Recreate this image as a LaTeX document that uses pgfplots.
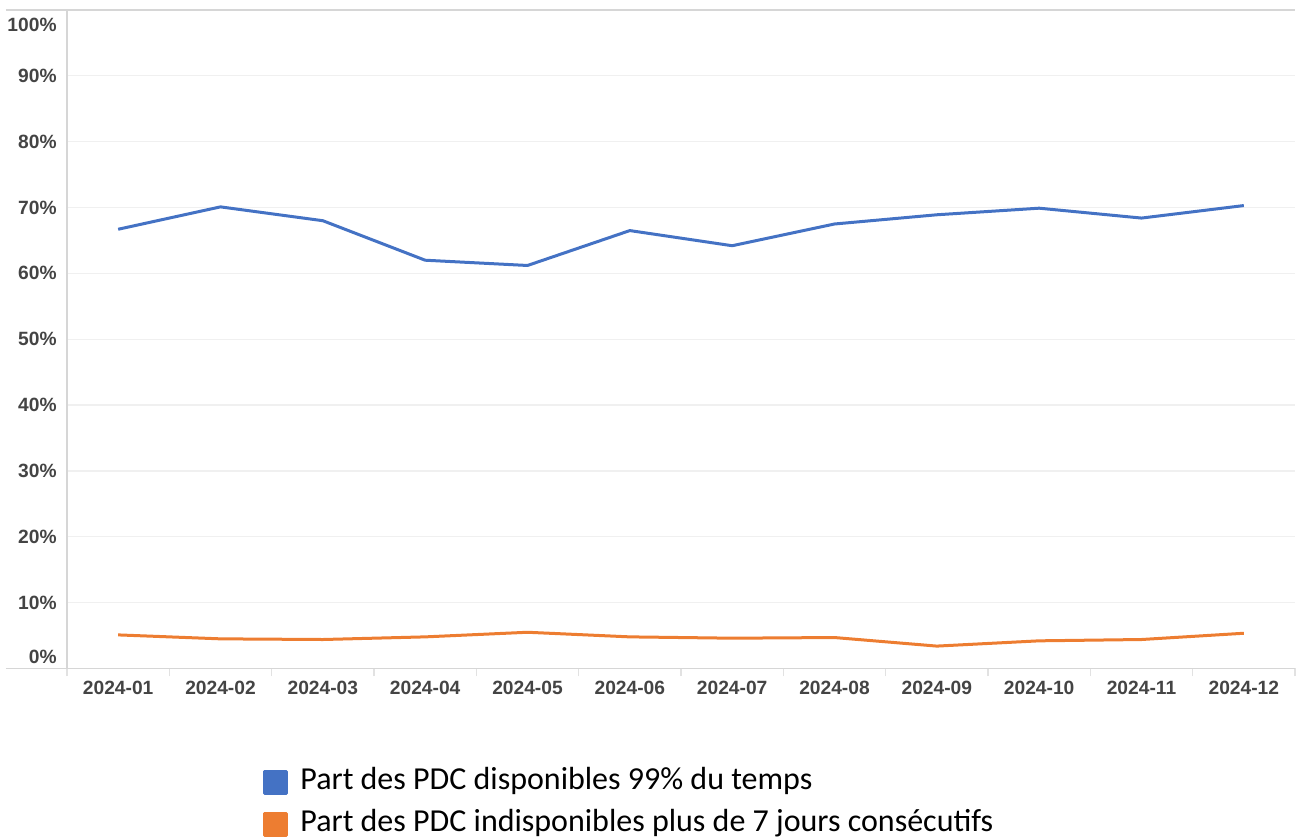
\documentclass[border=0pt]{standalone}
\usepackage{pgfplots}
\pgfplotsset{compat=1.18}
\usepackage{fontspec}
\setmainfont{Liberation Sans}
\newfontfamily\legfont{Carlito}
\definecolor{cblue}{HTML}{4472C4}
\definecolor{corange}{HTML}{ED7D31}
\definecolor{tickc}{HTML}{444444}
\definecolor{axc}{HTML}{D6D6D6}
\definecolor{gridc}{HTML}{F0F0F0}
\begin{document}
\begin{tikzpicture}
\path[use as bounding box] (-33.5pt,-84.75pt) rectangle (618pt,334.25pt);
\begin{axis}[
 at={(0,0)}, anchor=south west,
 scale only axis, width=614pt, height=329.25pt,
 xmin=-0.5, xmax=11.5, ymin=0, ymax=100,
 axis line style={draw=none},
 xtick pos=lower, ytick pos=left,
 xtick={0,...,11},
 xticklabels={2024-01,2024-02,2024-03,2024-04,2024-05,2024-06,2024-07,2024-08,2024-09,2024-10,2024-11,2024-12},
 ytick={0,10,...,100},
 yticklabels={\raisebox{2.3pt}[0pt][0pt]{0\%},10\%,20\%,30\%,40\%,50\%,60\%,70\%,80\%,90\%,\raisebox{-10.95pt}[0pt][0pt]{100\%}},
 major tick length=0pt,
 minor xtick={-0.5,0.5,...,11.5},
 minor tick length=4pt,
 tick align=outside,
 minor tick style={axc!70, line width=0.6pt},
 ymajorgrids, grid style={gridc, line width=0.6pt},
 ticklabel style={font=\bfseries\fontsize{9.6}{11}\selectfont, text=tickc},
 xticklabel style={anchor=north, inner sep=0pt, yshift=-6.3pt},
 yticklabel style={anchor=east, inner sep=0pt, xshift=-5pt},
 legend image code/.code={\fill[#1] (0pt,-5.5pt) rectangle (11pt,5.5pt);},
 legend cell align=left,
 legend style={at={(rel axis cs:0.1596,-0.151)}, anchor=north west, draw=none, fill=none,
   inner sep=0pt, row sep=7pt, font=\legfont\fontsize{16}{19}\selectfont,
   nodes={inner sep=0pt, text height=10.5pt, text depth=3.5pt},
   /tikz/every odd column/.append style={column sep=6pt}},
]
\addplot[cblue, line width=1.5pt, line join=round] coordinates {
 (0,66.7) (1,70.1) (2,68.0) (3,62.0) (4,61.2) (5,66.5) (6,64.2) (7,67.5) (8,68.9) (9,69.9) (10,68.4) (11,70.3)};
\addlegendentry{Part des PDC disponibles 99\% du temps}
\addplot[corange, line width=1.5pt, line join=round] coordinates {
 (0,5.1) (1,4.5) (2,4.4) (3,4.8) (4,5.5) (5,4.8) (6,4.6) (7,4.7) (8,3.4) (9,4.2) (10,4.4) (11,5.35)};
\addlegendentry{Part des PDC indisponibles plus de 7 jours consécutifs}
\end{axis}
\draw[axc, line width=0.8pt] (-30.5pt,0) -- (614pt,0);
\draw[axc, line width=0.8pt] (-30.5pt,329.25pt) -- (614pt,329.25pt);
\draw[axc, line width=0.8pt] (0,0) -- (0,329.25pt);
\end{tikzpicture}
\end{document}
